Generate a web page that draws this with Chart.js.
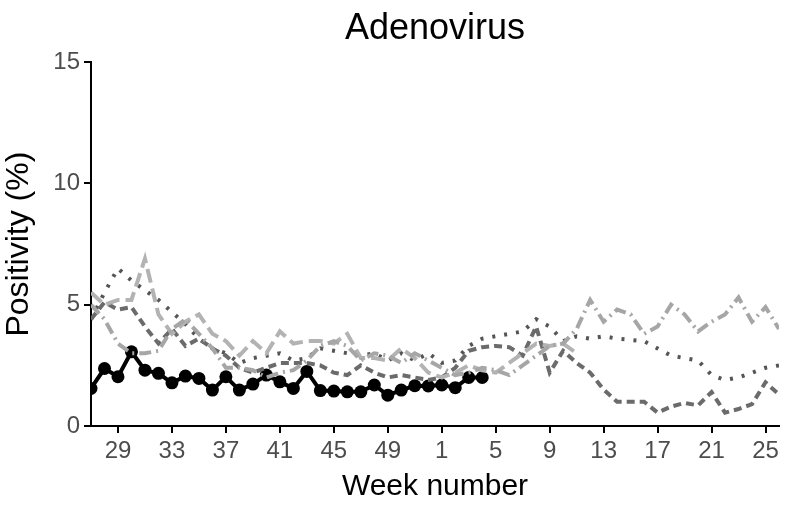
<!DOCTYPE html>
<html>
<head>
<meta charset="utf-8">
<script src="https://cdn.jsdelivr.net/npm/chart.js@4/dist/chart.umd.min.js"></script>
<style>
  html, body { margin: 0; padding: 0; background: #fff; }
  #wrap { width: 788px; height: 505px; }
</style>
</head>
<body>
<div id="wrap"><canvas id="chart" width="788" height="505"></canvas></div>
<script>
// Semanas epidemiológicas de la temporada (27 -> 26)
const semanas = [27, 28, 29, 30, 31, 32, 33, 34, 35, 36, 37, 38, 39, 40, 41, 42, 43, 44, 45, 46, 47, 48, 49, 50, 51, 52,
                 1, 2, 3, 4, 5, 6, 7, 8, 9, 10, 11, 12, 13, 14, 15, 16, 17, 18, 19, 20, 21, 22, 23, 24, 25, 26];
const semanasEje = [29, 33, 37, 41, 45, 49, 1, 5, 9, 13, 17, 21, 25];

// Temporadas anteriores (% positividad)
const temporadaA = [4.4, 5.5, 6.5, 6.0, 5.6, 5.2, 4.7, 4.2, 3.6, 3.2, 3.0, 2.6, 2.8, 2.9, 3.0, 2.7, 2.8, 3.2, 3.1, 3.0,
                    2.9, 3.0, 2.7, 3.0, 2.7, 3.0, 2.6, 2.7, 3.3, 3.6, 3.7, 3.8, 3.9, 4.4, 4.1, 3.5, 3.7, 3.6, 3.7, 3.6,
                    3.55, 3.5, 3.2, 2.9, 2.8, 2.7, 2.1, 1.9, 2.0, 2.2, 2.4, 2.5];
const temporadaB = [4.4, 5.1, 4.8, 4.9, 4.1, 3.4, 4.0, 3.3, 3.6, 3.2, 2.9, 2.4, 2.2, 2.4, 2.6, 2.6, 2.6, 2.5, 2.2, 2.1,
                    2.5, 2.2, 2.0, 2.1, 2.0, 1.9, 2.0, 2.4, 3.1, 3.25, 3.3, 3.25, 2.9, 4.1, 2.2, 3.1, 2.6, 2.2, 1.5, 1.0,
                    1.0, 1.0, 0.55, 0.8, 0.95, 0.85, 1.4, 0.55, 0.7, 0.9, 1.8, 1.3];
const temporadaC = [5.5, 5.0, 5.2, 5.2, 6.9, 4.6, 3.8, 4.3, 4.6, 3.8, 3.5, 2.9, 3.5, 3.0, 3.9, 3.4, 3.5, 3.5, 3.4, 3.8,
                    2.8, 2.8, 2.7, 3.2, 2.8, 2.2, 2.0, 2.2, 2.5, 2.3, 2.2, 2.6, 3.0, 3.4, 3.3, 3.4, 3.0];
const temporadaD = [5.0, 4.4, 3.4, 3.0, 3.0, 3.1, 4.0, 4.4, 3.8, 3.2, 2.4, 2.4, 2.3, 2.0, 2.2, 2.3, 2.7, 3.3, 3.5, 3.3,
                    2.7, 3.0, 2.9, 2.6, 3.0, 2.7, 2.4, 2.1, 2.2, 2.4, 2.3, 2.1, 2.5, 2.9, 3.3, 3.4, 4.0, 5.2, 4.3, 4.8,
                    4.6, 3.8, 4.1, 5.0, 4.6, 3.9, 4.3, 4.6, 5.3, 4.3, 4.9, 4.0];
// Temporada actual
const temporadaActual = [1.55, 2.37, 2.03, 3.06, 2.3, 2.17, 1.78, 2.06, 1.96, 1.48, 2.03, 1.48, 1.73, 2.1, 1.82, 1.55,
                         2.25, 1.46, 1.44, 1.41, 1.41, 1.69, 1.27, 1.48, 1.66, 1.65, 1.69, 1.58, 2.0, 2.0];

const fuente = "'Liberation Sans', Arial, sans-serif";

function aPuntos(valores) {
    return valores.map((v, i) => ({ x: i, y: v }));
}

function serie(valores, color, dash) {
    return {
        data: aPuntos(valores),
        borderColor: color,
        borderWidth: 4,
        borderDash: dash,
        pointRadius: 0,
        tension: 0,
        fill: false
    };
}

const datasets = [
    serie(temporadaD, '#a6a6a6', [12, 5, 2, 5]),
    serie(temporadaC, '#b3b3b3', [14, 6]),
    serie(temporadaB, '#6b6b6b', [8, 5]),
    serie(temporadaA, '#555555', [3, 9]),
    {
        data: aPuntos(temporadaActual),
        borderColor: '#000',
        backgroundColor: '#000',
        borderWidth: 4,
        pointRadius: 6.5,
        pointBorderWidth: 0,
        tension: 0,
        fill: false
    }
];

const ctx = document.getElementById('chart').getContext('2d');
new Chart(ctx, {
    type: 'line',
    data: { datasets: datasets },
    options: {
        responsive: false,
        animation: false,
        layout: { padding: { left: 0, right: 9, top: 0, bottom: 0 } },
        plugins: {
            legend: { display: false },
            tooltip: { enabled: false },
            title: {
                display: true,
                fullSize: false,
                text: 'Adenovirus',
                color: '#000',
                font: { family: fuente, size: 36, weight: 'normal' },
                padding: { top: 7, bottom: 12 }
            }
        },
        scales: {
            x: {
                type: 'linear',
                min: 0,
                max: semanas.length - 1,
                afterBuildTicks: (scale) => {
                    scale.ticks = semanasEje.map(s => ({ value: semanas.indexOf(s) }));
                },
                afterFit: (scale) => { scale.height = 79; },
                ticks: {
                    autoSkip: false,
                    maxRotation: 0,
                    color: '#4d4d4d',
                    font: { family: fuente, size: 24 },
                    padding: 4,
                    callback: (v) => semanas[v]
                },
                grid: { drawOnChartArea: false, drawTicks: true, tickLength: 7, color: '#000', lineWidth: 2 },
                border: { display: true, color: '#000', width: 2 },
                title: {
                    display: true,
                    text: 'Week number',
                    color: '#000',
                    font: { family: fuente, size: 30 },
                    padding: { top: 0, bottom: 0 }
                }
            },
            y: {
                min: 0,
                max: 15,
                afterFit: (scale) => { scale.width = 91; },
                ticks: {
                    stepSize: 5,
                    color: '#4d4d4d',
                    font: { family: fuente, size: 24 },
                    padding: 4
                },
                grid: { drawOnChartArea: false, drawTicks: true, tickLength: 7, color: '#000', lineWidth: 2 },
                border: { display: true, color: '#000', width: 2 },
                title: {
                    display: true,
                    text: 'Positivity (%)',
                    color: '#000',
                    font: { family: fuente, size: 32 },
                    padding: { top: 0, bottom: 4 }
                }
            }
        }
    }
});
</script>
</body>
</html>
